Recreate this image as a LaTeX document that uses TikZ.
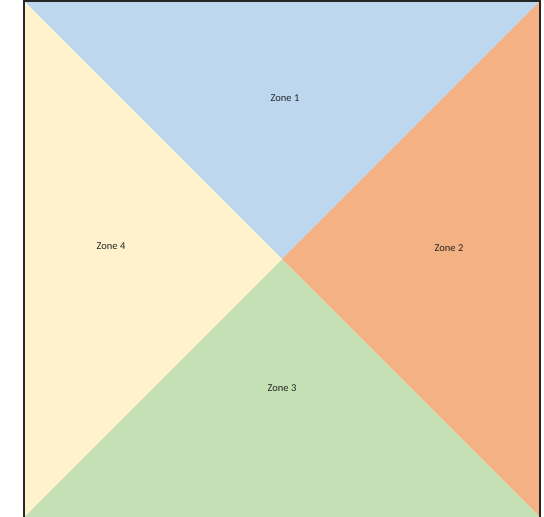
\documentclass[tikz,border=0pt]{standalone}
\usepackage{fontspec}
\setmainfont{Carlito}
\usepackage{xcolor}
\definecolor{ink}{HTML}{262626}
\definecolor{zoneblue}{HTML}{BDD7EE}
\definecolor{zoneorange}{HTML}{F4B183}
\definecolor{zonegreen}{HTML}{C5E0B4}
\definecolor{zoneyellow}{HTML}{FFF2CC}
\usetikzlibrary{calc}
\tikzset{
  zonelabel/.style={font=\fontsize{10.5}{12}\selectfont, text=ink, inner sep=1pt},
  frame/.style={draw=ink, line width=2pt, line cap=rect, line join=miter},
}

\begin{document}
\begin{tikzpicture}[x=1pt, y=-1pt]
  \useasboundingbox (0,0) rectangle (544,517);
  % corners of the square and its centre
  \coordinate (tl) at (24,1);
  \coordinate (tr) at (540,1);
  \coordinate (br) at (540,517);
  \coordinate (bl) at (24,517);
  \coordinate (mid) at (282,259);
  % the four zones
  \fill[zoneblue] (tl) -- (tr) -- (mid) -- cycle;
  \fill[zoneorange] (tr) -- (br) -- (mid) -- cycle;
  \fill[zonegreen] (br) -- (bl) -- (mid) -- cycle;
  \fill[zoneyellow] (bl) -- (tl) -- (mid) -- cycle;
  \node[zonelabel] (zone1) at (285,98) {Zone 1};
  \node[zonelabel] (zone2) at (449,248) {Zone 2};
  \node[zonelabel] (zone3) at (282,388) {Zone 3};
  \node[zonelabel] (zone4) at (111,246) {Zone 4};
  % border, open at the bottom
  \draw[frame] (bl) -- (tl) -- (tr) -- (br);
\end{tikzpicture}
\end{document}
